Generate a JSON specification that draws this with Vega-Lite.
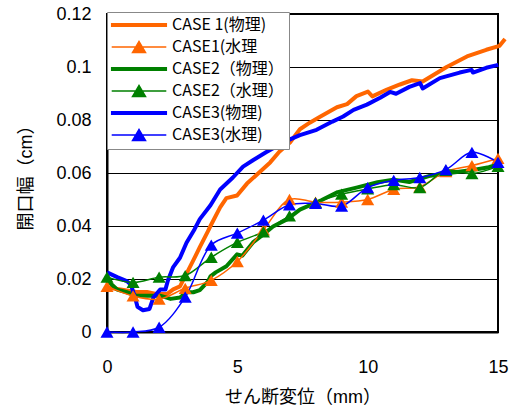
{
  "$schema": "https://vega.github.io/schema/vega-lite/v6.json",
  "autosize": {"type": "none"},
  "padding": {"left": 107, "top": 14, "right": 29, "bottom": 82},
  "width": 391,
  "height": 318,
  "background": "white",
  "config": {
    "view": {"stroke": "black", "strokeWidth": 2},
    "font": "Liberation Sans, Noto Sans CJK JP",
    "axis": {"labelFont": "Liberation Sans, Noto Sans CJK JP", "titleFont": "Liberation Sans, Noto Sans CJK JP", "labelColor": "black", "titleColor": "black", "titleFontWeight": "normal"}
  },
  "datasets": {
    "phys": [
      {"series": "CASE 1(物理)", "x": 0, "y": 0.0168},
      {"series": "CASE 1(物理)", "x": 0.39, "y": 0.0162},
      {"series": "CASE 1(物理)", "x": 0.76, "y": 0.0157},
      {"series": "CASE 1(物理)", "x": 1.12, "y": 0.0151},
      {"series": "CASE 1(物理)", "x": 1.53, "y": 0.0151},
      {"series": "CASE 1(物理)", "x": 1.93, "y": 0.0143},
      {"series": "CASE 1(物理)", "x": 2.3, "y": 0.0143},
      {"series": "CASE 1(物理)", "x": 2.54, "y": 0.0161},
      {"series": "CASE 1(物理)", "x": 2.8, "y": 0.0172},
      {"series": "CASE 1(物理)", "x": 3.05, "y": 0.022},
      {"series": "CASE 1(物理)", "x": 3.31, "y": 0.027},
      {"series": "CASE 1(物理)", "x": 3.56, "y": 0.032},
      {"series": "CASE 1(物理)", "x": 3.87, "y": 0.038},
      {"series": "CASE 1(物理)", "x": 3.97, "y": 0.04},
      {"series": "CASE 1(物理)", "x": 4.34, "y": 0.047},
      {"series": "CASE 1(物理)", "x": 4.58, "y": 0.0505},
      {"series": "CASE 1(物理)", "x": 4.99, "y": 0.0515},
      {"series": "CASE 1(物理)", "x": 5.37, "y": 0.056},
      {"series": "CASE 1(物理)", "x": 5.87, "y": 0.0605},
      {"series": "CASE 1(物理)", "x": 6.26, "y": 0.064},
      {"series": "CASE 1(物理)", "x": 6.61, "y": 0.068},
      {"series": "CASE 1(物理)", "x": 7.02, "y": 0.0715},
      {"series": "CASE 1(物理)", "x": 7.4, "y": 0.0765},
      {"series": "CASE 1(物理)", "x": 7.78, "y": 0.079},
      {"series": "CASE 1(物理)", "x": 8.14, "y": 0.081},
      {"series": "CASE 1(物理)", "x": 8.82, "y": 0.0848},
      {"series": "CASE 1(物理)", "x": 9.21, "y": 0.086},
      {"series": "CASE 1(物理)", "x": 9.57, "y": 0.089},
      {"series": "CASE 1(物理)", "x": 10.01, "y": 0.0907},
      {"series": "CASE 1(物理)", "x": 10.18, "y": 0.0889},
      {"series": "CASE 1(物理)", "x": 10.74, "y": 0.0915},
      {"series": "CASE 1(物理)", "x": 11.24, "y": 0.0934},
      {"series": "CASE 1(物理)", "x": 11.7, "y": 0.095},
      {"series": "CASE 1(物理)", "x": 12.11, "y": 0.0945},
      {"series": "CASE 1(物理)", "x": 13.03, "y": 0.1},
      {"series": "CASE 1(物理)", "x": 13.81, "y": 0.104},
      {"series": "CASE 1(物理)", "x": 14.55, "y": 0.1065},
      {"series": "CASE 1(物理)", "x": 15.06, "y": 0.108},
      {"series": "CASE 1(物理)", "x": 15.27, "y": 0.1106},
      {"series": "CASE2（物理）", "x": 0, "y": 0.0195},
      {"series": "CASE2（物理）", "x": 0.39, "y": 0.016},
      {"series": "CASE2（物理）", "x": 0.76, "y": 0.015},
      {"series": "CASE2（物理）", "x": 1.12, "y": 0.0137},
      {"series": "CASE2（物理）", "x": 1.63, "y": 0.0137},
      {"series": "CASE2（物理）", "x": 2.04, "y": 0.0137},
      {"series": "CASE2（物理）", "x": 2.44, "y": 0.0125},
      {"series": "CASE2（物理）", "x": 2.8, "y": 0.013},
      {"series": "CASE2（物理）", "x": 3.05, "y": 0.015},
      {"series": "CASE2（物理）", "x": 3.31, "y": 0.015},
      {"series": "CASE2（物理）", "x": 3.56, "y": 0.0158},
      {"series": "CASE2（物理）", "x": 3.87, "y": 0.019},
      {"series": "CASE2（物理）", "x": 3.97, "y": 0.021},
      {"series": "CASE2（物理）", "x": 4.17, "y": 0.0225},
      {"series": "CASE2（物理）", "x": 4.58, "y": 0.0248},
      {"series": "CASE2（物理）", "x": 4.99, "y": 0.0293},
      {"series": "CASE2（物理）", "x": 5.19, "y": 0.0288},
      {"series": "CASE2（物理）", "x": 5.6, "y": 0.0338},
      {"series": "CASE2（物理）", "x": 6.0, "y": 0.0368},
      {"series": "CASE2（物理）", "x": 6.37, "y": 0.0398},
      {"series": "CASE2（物理）", "x": 6.92, "y": 0.0426},
      {"series": "CASE2（物理）", "x": 7.4, "y": 0.0462},
      {"series": "CASE2（物理）", "x": 8.24, "y": 0.0498},
      {"series": "CASE2（物理）", "x": 8.85, "y": 0.0528},
      {"series": "CASE2（物理）", "x": 9.57, "y": 0.0545},
      {"series": "CASE2（物理）", "x": 10.38, "y": 0.0565},
      {"series": "CASE2（物理）", "x": 10.99, "y": 0.0575},
      {"series": "CASE2（物理）", "x": 11.6, "y": 0.0566},
      {"series": "CASE2（物理）", "x": 12.41, "y": 0.059},
      {"series": "CASE2（物理）", "x": 13.13, "y": 0.06},
      {"series": "CASE2（物理）", "x": 13.94, "y": 0.061},
      {"series": "CASE2（物理）", "x": 14.65, "y": 0.0622},
      {"series": "CASE2（物理）", "x": 15.06, "y": 0.0634},
      {"series": "CASE3(物理)", "x": 0, "y": 0.0225},
      {"series": "CASE3(物理)", "x": 0.39, "y": 0.0207},
      {"series": "CASE3(物理)", "x": 0.76, "y": 0.0192},
      {"series": "CASE3(物理)", "x": 0.92, "y": 0.0178},
      {"series": "CASE3(物理)", "x": 1.07, "y": 0.0132},
      {"series": "CASE3(物理)", "x": 1.17, "y": 0.0095},
      {"series": "CASE3(物理)", "x": 1.38, "y": 0.0082},
      {"series": "CASE3(物理)", "x": 1.63, "y": 0.0087},
      {"series": "CASE3(物理)", "x": 1.78, "y": 0.013},
      {"series": "CASE3(物理)", "x": 2.04, "y": 0.016},
      {"series": "CASE3(物理)", "x": 2.24, "y": 0.016},
      {"series": "CASE3(物理)", "x": 2.34, "y": 0.0195},
      {"series": "CASE3(物理)", "x": 2.54, "y": 0.0245},
      {"series": "CASE3(物理)", "x": 2.8, "y": 0.028},
      {"series": "CASE3(物理)", "x": 3.05, "y": 0.0337},
      {"series": "CASE3(物理)", "x": 3.36, "y": 0.0388},
      {"series": "CASE3(物理)", "x": 3.56, "y": 0.0426},
      {"series": "CASE3(物理)", "x": 3.97, "y": 0.0478},
      {"series": "CASE3(物理)", "x": 4.34, "y": 0.0538},
      {"series": "CASE3(物理)", "x": 4.83, "y": 0.0583},
      {"series": "CASE3(物理)", "x": 5.22, "y": 0.0624},
      {"series": "CASE3(物理)", "x": 5.6, "y": 0.0648},
      {"series": "CASE3(物理)", "x": 6.1, "y": 0.0678},
      {"series": "CASE3(物理)", "x": 6.61, "y": 0.0707},
      {"series": "CASE3(物理)", "x": 7.02, "y": 0.0727},
      {"series": "CASE3(物理)", "x": 7.4, "y": 0.0743},
      {"series": "CASE3(物理)", "x": 8.04, "y": 0.0763},
      {"series": "CASE3(物理)", "x": 8.65, "y": 0.0794},
      {"series": "CASE3(物理)", "x": 9.06, "y": 0.0813},
      {"series": "CASE3(物理)", "x": 9.46, "y": 0.0838},
      {"series": "CASE3(物理)", "x": 9.97, "y": 0.0858},
      {"series": "CASE3(物理)", "x": 10.48, "y": 0.0884},
      {"series": "CASE3(物理)", "x": 10.86, "y": 0.0906},
      {"series": "CASE3(物理)", "x": 11.09, "y": 0.0899},
      {"series": "CASE3(物理)", "x": 11.6, "y": 0.0925},
      {"series": "CASE3(物理)", "x": 12.01, "y": 0.0939},
      {"series": "CASE3(物理)", "x": 12.11, "y": 0.0919},
      {"series": "CASE3(物理)", "x": 12.77, "y": 0.0958},
      {"series": "CASE3(物理)", "x": 13.53, "y": 0.0979},
      {"series": "CASE3(物理)", "x": 13.99, "y": 0.0989},
      {"series": "CASE3(物理)", "x": 14.04, "y": 0.0979},
      {"series": "CASE3(物理)", "x": 14.55, "y": 0.0997},
      {"series": "CASE3(物理)", "x": 15.01, "y": 0.1008}
    ],
    "water": [
      {"series": "CASE1(水理", "x": 0, "y": 0.0172},
      {"series": "CASE1(水理", "x": 1, "y": 0.0136},
      {"series": "CASE1(水理", "x": 2, "y": 0.0124},
      {"series": "CASE1(水理", "x": 3, "y": 0.0165},
      {"series": "CASE1(水理", "x": 4, "y": 0.0195},
      {"series": "CASE1(水理", "x": 5, "y": 0.0266},
      {"series": "CASE1(水理", "x": 6, "y": 0.0385},
      {"series": "CASE1(水理", "x": 7, "y": 0.05},
      {"series": "CASE1(水理", "x": 8, "y": 0.049},
      {"series": "CASE1(水理", "x": 9, "y": 0.049},
      {"series": "CASE1(水理", "x": 10, "y": 0.05},
      {"series": "CASE1(水理", "x": 11, "y": 0.0538},
      {"series": "CASE1(水理", "x": 12, "y": 0.0548},
      {"series": "CASE1(水理", "x": 13, "y": 0.0605},
      {"series": "CASE1(水理", "x": 14, "y": 0.0628},
      {"series": "CASE1(水理", "x": 15, "y": 0.0655},
      {"series": "CASE2（水理）", "x": 0, "y": 0.0207},
      {"series": "CASE2（水理）", "x": 1, "y": 0.0187},
      {"series": "CASE2（水理）", "x": 2, "y": 0.0207},
      {"series": "CASE2（水理）", "x": 3, "y": 0.0213},
      {"series": "CASE2（水理）", "x": 4, "y": 0.0282},
      {"series": "CASE2（水理）", "x": 5, "y": 0.0338},
      {"series": "CASE2（水理）", "x": 6, "y": 0.0378},
      {"series": "CASE2（水理）", "x": 7, "y": 0.0438},
      {"series": "CASE2（水理）", "x": 8, "y": 0.0488},
      {"series": "CASE2（水理）", "x": 9, "y": 0.052},
      {"series": "CASE2（水理）", "x": 10, "y": 0.054},
      {"series": "CASE2（水理）", "x": 11, "y": 0.0556},
      {"series": "CASE2（水理）", "x": 12, "y": 0.0545},
      {"series": "CASE2（水理）", "x": 13, "y": 0.061},
      {"series": "CASE2（水理）", "x": 14, "y": 0.0598},
      {"series": "CASE2（水理）", "x": 15, "y": 0.0625},
      {"series": "CASE3(水理)", "x": 0, "y": 0},
      {"series": "CASE3(水理)", "x": 1, "y": 0},
      {"series": "CASE3(水理)", "x": 2, "y": 0.0018},
      {"series": "CASE3(水理)", "x": 3, "y": 0.0132},
      {"series": "CASE3(水理)", "x": 4, "y": 0.0328},
      {"series": "CASE3(水理)", "x": 5, "y": 0.0373},
      {"series": "CASE3(水理)", "x": 6, "y": 0.0422},
      {"series": "CASE3(水理)", "x": 7, "y": 0.048},
      {"series": "CASE3(水理)", "x": 8, "y": 0.0485},
      {"series": "CASE3(水理)", "x": 9, "y": 0.0475},
      {"series": "CASE3(水理)", "x": 10, "y": 0.0545},
      {"series": "CASE3(水理)", "x": 11, "y": 0.0572},
      {"series": "CASE3(水理)", "x": 12, "y": 0.0583},
      {"series": "CASE3(水理)", "x": 13, "y": 0.0613},
      {"series": "CASE3(水理)", "x": 14, "y": 0.0678},
      {"series": "CASE3(水理)", "x": 15, "y": 0.064}
    ]
  },
  "encoding": {
    "x": {
      "field": "x", "type": "quantitative",
      "scale": {"domain": [0, 15], "nice": false, "zero": false},
      "axis": {"values": [0, 5, 10, 15], "title": "せん断変位（mm）", "grid": false, "domainColor": "black", "domainWidth": 2, "ticks": false, "labelFontSize": 18, "labelPadding": 26, "titleFontSize": 18, "titlePadding": 12, "labelFlush": false}
    },
    "y": {
      "field": "y", "type": "quantitative",
      "scale": {"domain": [0, 0.12], "nice": false},
      "axis": {"values": [0, 0.02, 0.04, 0.06, 0.08, 0.1, 0.12], "format": ".2~f", "title": "開口幅（cm）", "grid": true, "gridColor": "black", "gridOpacity": 1, "gridWidth": 1, "ticks": false, "domainColor": "black", "domainWidth": 2, "labelFontSize": 18, "labelPadding": 16, "titleFontSize": 18, "titlePadding": 20, "labelFlush": false}
    },
    "color": {
      "field": "series", "type": "nominal",
      "scale": {
        "domain": ["CASE 1(物理)", "CASE1(水理", "CASE2（物理）", "CASE2（水理）", "CASE3(物理)", "CASE3(水理)"],
        "range": ["#FF6600", "#FF6600", "#008000", "#008000", "#0000FF", "#0000FF"]
      },
      "legend": {
        "title": null,
        "orient": "none",
        "legendX": 0,
        "legendY": -2,
        "fillColor": "white",
        "strokeColor": "#888888",
        "padding": 5,
        "labelFont": "Noto Sans CJK JP",
        "labelFontSize": 16,
        "labelColor": "black",
        "symbolSize": 196,
        "symbolStrokeWidth": 1.5,
        "symbolOffset": 19,
        "labelOffset": 25,
        "rowPadding": 5,
        "labelLimit": 200,
        "encode": {
          "symbols": {
            "update": {
              "shape": {"signal": "indexof(datum.value, '水理') >= 0 ? 'M-3.9,0L3.9,0M-0.93,0.8L0,-0.8L0.93,0.8Z' : 'M-3.9,-0.18L3.9,-0.18L3.9,0.18L-3.9,0.18Z'"}
            }
          }
        }
      }
    }
  },
  "layer": [
    {
      "data": {"name": "phys"},
      "mark": {"type": "line", "strokeWidth": 4, "strokeJoin": "round"}
    },
    {
      "data": {"name": "water"},
      "mark": {"type": "line", "strokeWidth": 1.5, "interpolate": "catmull-rom"}
    },
    {
      "data": {"name": "water"},
      "mark": {"type": "point", "shape": "triangle-up", "filled": true, "size": 170, "opacity": 1}
    }
  ]
}
